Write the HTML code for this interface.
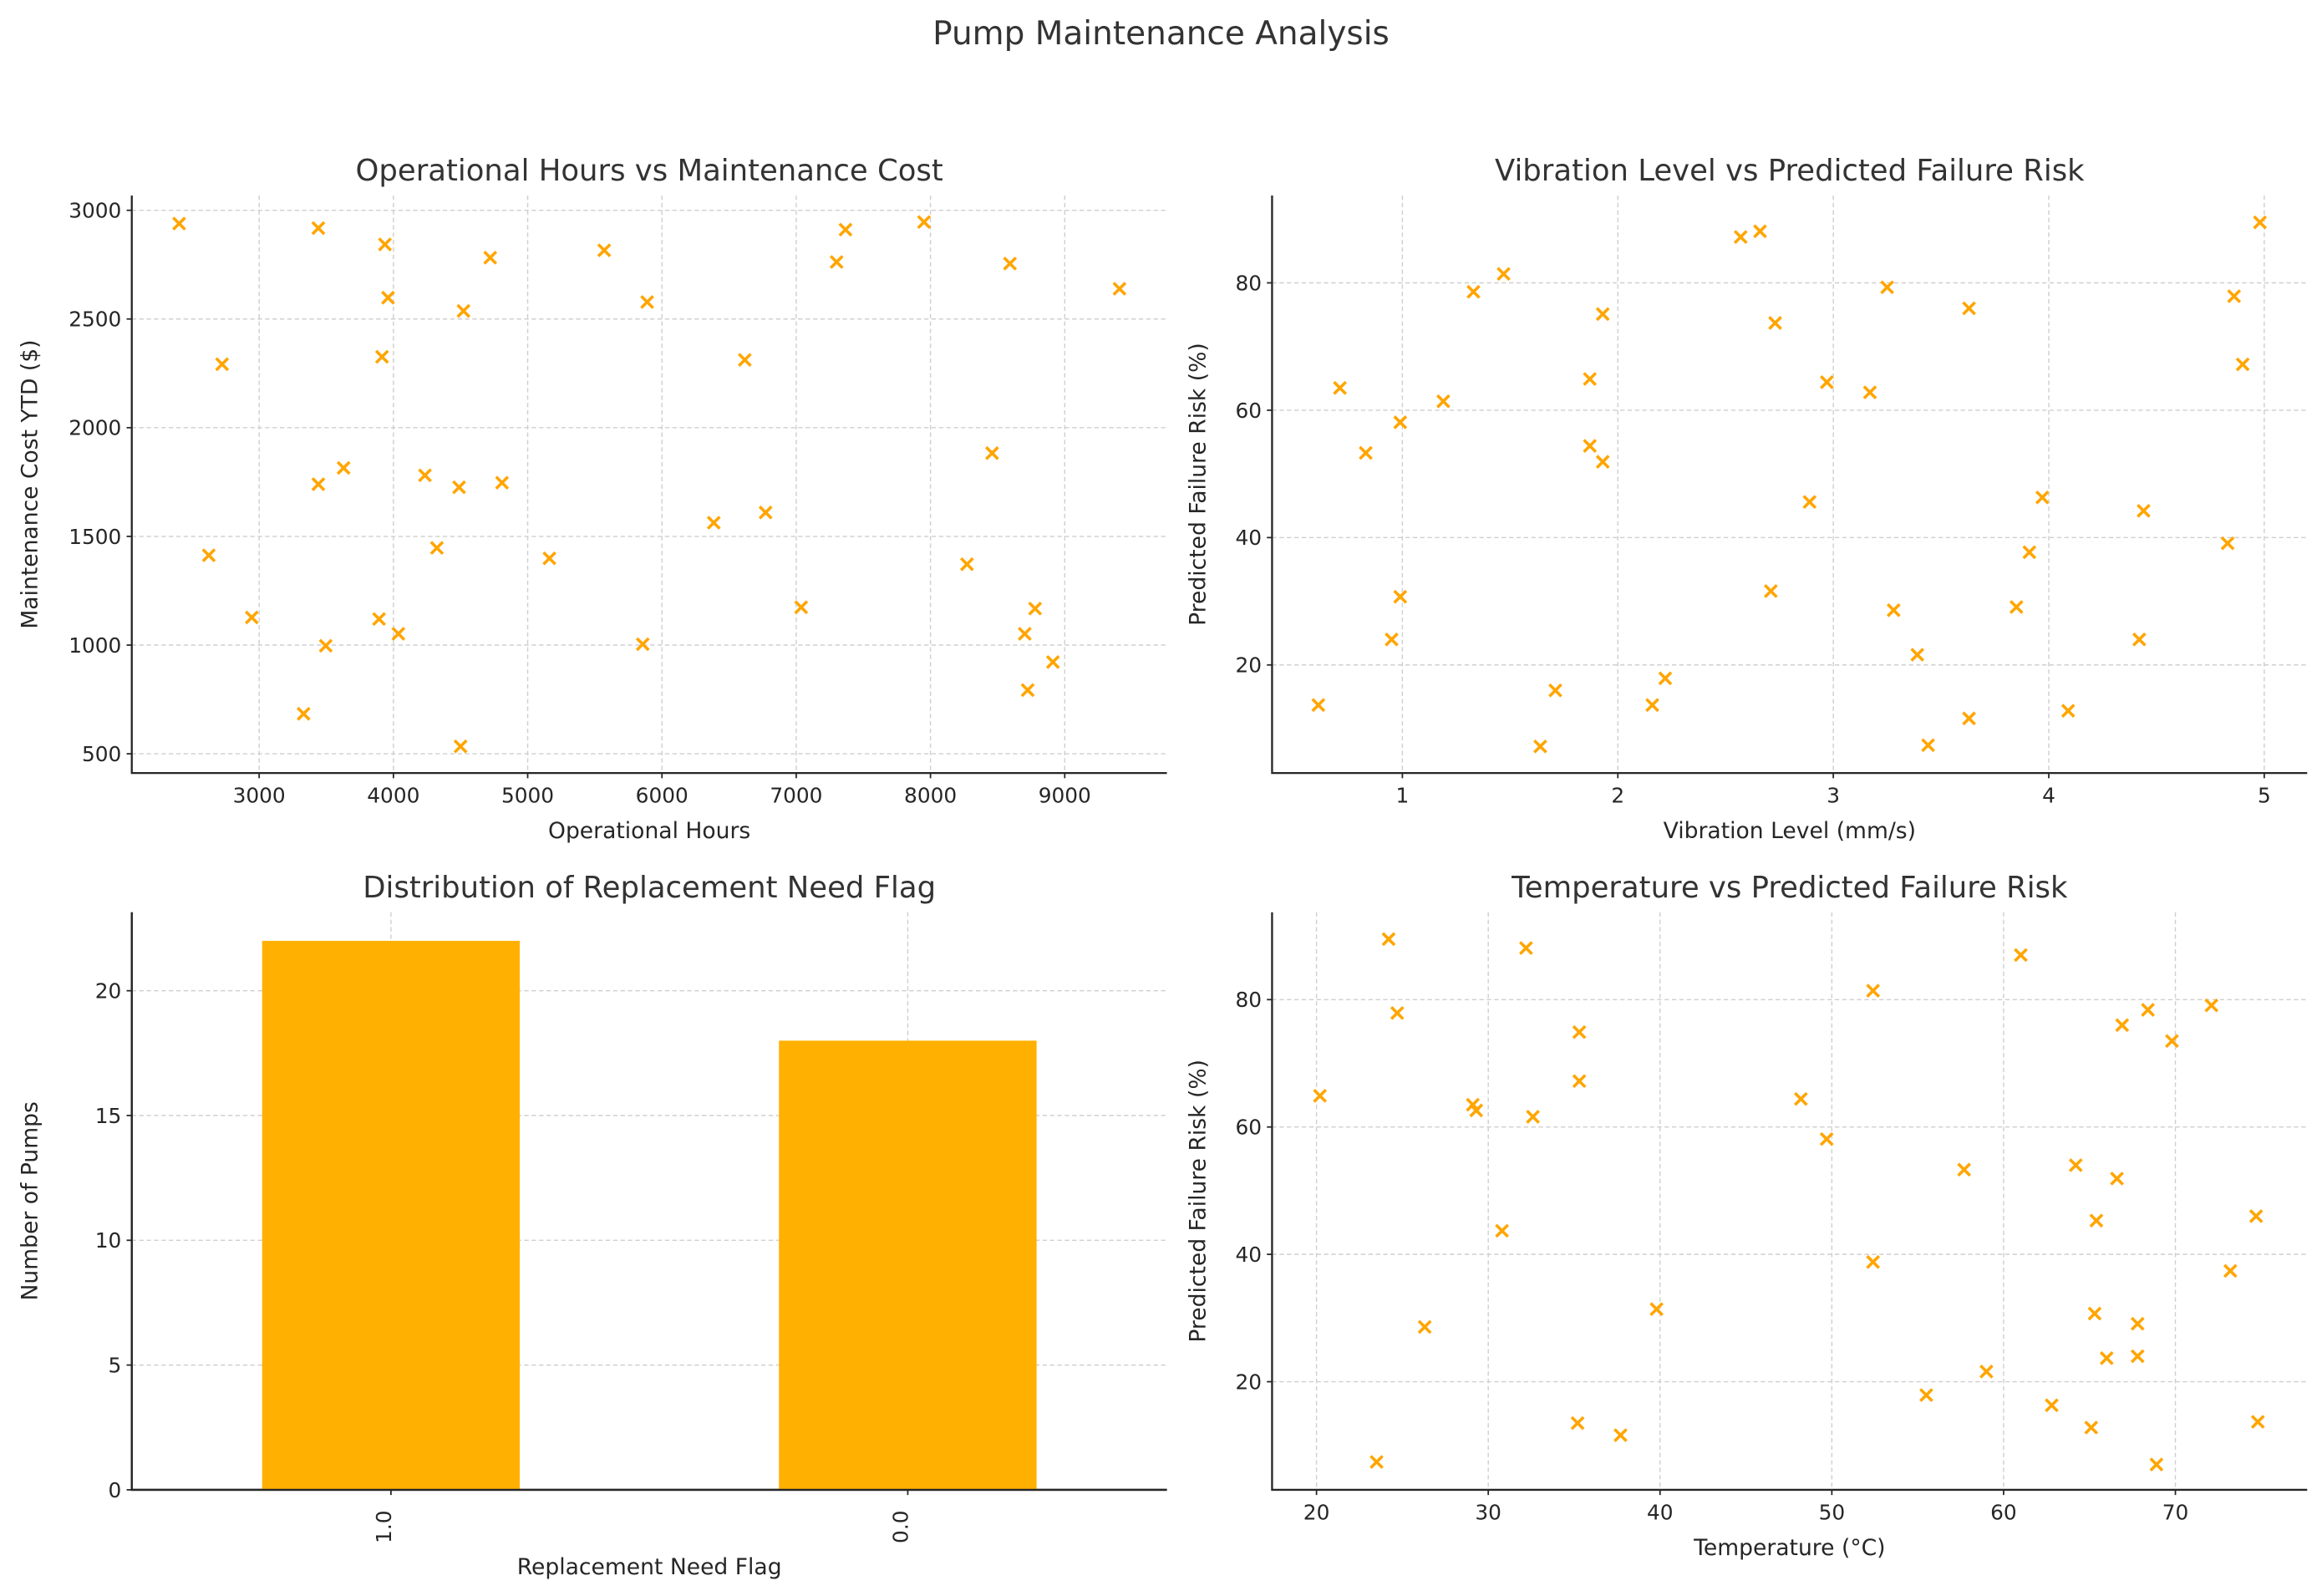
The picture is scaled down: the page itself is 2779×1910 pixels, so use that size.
<!DOCTYPE html>
<html><head><meta charset="utf-8"><title>Pump Maintenance Analysis</title>
<style>
html,body{margin:0;padding:0;background:#fff;}
svg{display:block;font-family:"DejaVu Sans","Liberation Sans",sans-serif;}
</style></head>
<body>
<svg id="fig" xmlns="http://www.w3.org/2000/svg" width="2779" height="1910" viewBox="0 0 1568 1077.7" preserveAspectRatio="none">
<rect x="0" y="0" width="1568" height="1077.7" fill="#fff"/>
<text x="784" y="30" text-anchor="middle" font-size="22" fill="#333">Pump Maintenance Analysis</text>
</svg>
<script>
// Chart 1 data
const hoursData = [2404,3441,3937,4721,5570,7367,7301,7952,8592,9408,3960,4522,5890,2724,3915,6617,8459,3629,3441,4235,4489,4809,6386,6772,2625,4324,5162,8272,2945,3893,4037,7037,8779,3496,5857,8702,8912,8724,3331,4500];
const costData = [2939,2918,2843,2782,2816,2911,2762,2946,2755,2639,2598,2537,2578,2292,2326,2312,1883,1815,1740,1781,1726,1747,1563,1610,1413,1447,1399,1372,1127,1120,1052,1174,1168,997,1004,1052,922,793,684,534];
const hoursTicks = [3000,4000,5000,6000,7000,8000,9000];
const costTicks = [500,1000,1500,2000,2500,3000];
// Chart 2 data
const vibData = [0.61,0.71,0.83,0.99,0.99,0.95,1.19,1.33,1.47,1.93,1.87,1.87,1.93,1.71,1.64,2.16,2.22,2.57,2.66,2.73,2.89,2.71,2.97,3.17,3.25,3.28,3.39,3.44,3.63,3.63,3.85,3.91,3.97,4.09,4.44,4.42,4.83,4.86,4.90,4.98];
const vibRisk = [13.7,63.5,53.3,58.1,30.7,24.0,61.4,78.6,81.4,75.1,64.9,54.4,51.9,16.0,7.2,13.7,17.9,87.2,88.1,73.7,45.6,31.6,64.4,62.8,79.3,28.6,21.6,7.4,76.0,11.6,29.1,37.7,46.3,12.8,44.2,24.0,39.1,77.9,67.2,89.5];
const vibTicks = [1,2,3,4,5];
const riskTicks = [20,40,60,80];
// Chart 3 data
const flagCategories = ["1.0","0.0"];
const flagCounts = [22,18];
const countTicks = [0,5,10,15,20];
// Chart 4 data
const tempData = [20.2,23.5,24.2,24.7,26.3,29.1,29.3,32.2,32.6,30.8,35.3,35.3,35.2,37.7,39.8,48.2,49.7,52.4,52.4,55.5,57.7,59.0,61.0,62.8,64.2,65.1,65.4,65.3,66.0,66.6,66.9,68.4,67.8,67.8,68.9,69.8,72.1,73.2,74.7,74.8];
const tempRisk = [64.9,7.4,89.5,77.9,28.6,63.5,62.6,88.1,61.6,43.7,74.9,67.2,13.5,11.6,31.4,64.4,58.1,81.4,38.8,17.9,53.3,21.6,87.0,16.3,54.0,12.8,45.3,30.7,23.7,51.9,76.0,78.4,29.1,24.0,7.0,73.5,79.1,37.4,46.0,13.7];
const tempTicks = [20,30,40,50,60,70];

const NS = "http://www.w3.org/2000/svg";
const fig = document.getElementById('fig');
function mk(tag, attrs, parent){const e=document.createElementNS(NS,tag);for(const k in attrs)e.setAttribute(k,attrs[k]);(parent||fig).appendChild(e);return e;}
function lin(d0,d1,r0,r1){return v=>r0+(v-d0)/(d1-d0)*(r1-r0);}

function axes(name, box, xs, ys, xTicks, yTicks, title, xLabel, yLabel, xTickLabels){
  const g = mk('g',{});
  
  
  // grid
  xTicks.forEach(t=>{const l=mk('line',{x1:xs(t),x2:xs(t),y1:box.t,y2:box.b,stroke:'#cfcfcf','stroke-width':0.8,'stroke-dasharray':'3,2'},g);
    
    });
  yTicks.forEach(t=>{const l=mk('line',{x1:box.l,x2:box.r,y1:ys(t),y2:ys(t),stroke:'#cfcfcf','stroke-width':0.8,'stroke-dasharray':'3,2'},g);
    
    });
  // spines
  const sp=mk('path',{d:`M${box.l},${box.t}V${box.b}H${box.r}`,fill:'none',stroke:'#262626','stroke-width':1.3},g);
  
  
  // ticks
  xTicks.forEach((t,i)=>{mk('line',{x1:xs(t),x2:xs(t),y1:box.b,y2:box.b+3.5,stroke:'#262626','stroke-width':1},g);
    if(!xTickLabels){const tx=mk('text',{x:xs(t),y:box.b+20,'text-anchor':'middle','font-size':14,fill:'#262626'},g);tx.textContent=t;
    
    }});
  yTicks.forEach(t=>{mk('line',{x1:box.l-3.5,x2:box.l,y1:ys(t),y2:ys(t),stroke:'#262626','stroke-width':1},g);
    const tx=mk('text',{x:box.l-7,y:ys(t)+5,'text-anchor':'end','font-size':14,fill:'#262626'},g);tx.textContent=t;
    
    });
  const cx=(box.l+box.r)/2;
  const ti=mk('text',{x:cx,y:box.t-10,'text-anchor':'middle','font-size':20,fill:'#333'},g);ti.textContent=title;
  
  
  const xl=mk('text',{x:cx,y:xTickLabels?box.b+57:box.b+44,'text-anchor':'middle','font-size':15,fill:'#262626'},g);xl.textContent=xLabel;
  
  
  const ym=(box.t+box.b)/2, yx=box.l-(box.l>500?45:64);
  const yl=mk('text',{x:yx,y:ym,'text-anchor':'middle','font-size':15,fill:'#262626',transform:`rotate(-90 ${yx} ${ym})`},g);yl.textContent=yLabel;
  
  
  return g;
}
function scatter(g, xs, ys, X, Y){
  X.forEach((v,i)=>{const px=xs(v),py=ys(Y[i]),s=4;
    const p=mk('path',{d:`M${px-s},${py-s}L${px+s},${py+s}M${px-s},${py+s}L${px+s},${py-s}`,stroke:'#FFA500','stroke-width':2,fill:'none'},g);
    
    });
}

// Chart 1
{const box={l:89,r:788,t:132,b:522};
 const xs=lin(3000,9000,175,719), ys=lin(500,3000,509,142);
 const g=axes('hours-vs-cost-chart',box,xs,ys,hoursTicks,costTicks,'Operational Hours vs Maintenance Cost','Operational Hours','Maintenance Cost YTD ($)');
 scatter(g,xs,ys,hoursData,costData);}
// Chart 2
{const box={l:859,r:1558,t:132,b:522};
 const xs=lin(1,5,947,1529), ys=lin(20,80,449,191);
 const g=axes('vibration-vs-risk-chart',box,xs,ys,vibTicks,riskTicks,'Vibration Level vs Predicted Failure Risk','Vibration Level (mm/s)','Predicted Failure Risk (%)');
 scatter(g,xs,ys,vibData,vibRisk);}
// Chart 3
{const box={l:89,r:788,t:616,b:1006};
 const xs=lin(0,1,264,613), ys=lin(0,20,1006,669);
 const idx=flagCategories.map((c,i)=>i);
 const g=axes('replacement-flag-bar-chart',box,xs,ys,idx,countTicks,'Distribution of Replacement Need Flag','Replacement Need Flag','Number of Pumps',true);
 const bw=174;
 flagCounts.forEach((v,i)=>{const r=mk('rect',{x:xs(i)-bw/2,y:ys(v),width:bw,height:ys(0)-ys(v),fill:'#FFB000'},g);
   
   
   const tx=mk('text',{x:xs(i)+5,y:box.b+30,'text-anchor':'middle','font-size':14,fill:'#262626',transform:`rotate(-90 ${xs(i)} ${box.b+30})`},g);
   tx.textContent=flagCategories[i];
   
   });
 // redraw spines on top of bars
 mk('path',{d:`M${box.l},${box.t}V${box.b}H${box.r}`,fill:'none',stroke:'#262626','stroke-width':1.3},g);}
// Chart 4
{const box={l:859,r:1558,t:616,b:1006};
 const xs=lin(20,70,889,1469), ys=lin(20,80,933,675);
 const g=axes('temperature-vs-risk-chart',box,xs,ys,tempTicks,riskTicks,'Temperature vs Predicted Failure Risk','Temperature (°C)','Predicted Failure Risk (%)');
 scatter(g,xs,ys,tempData,tempRisk);}
</script>
</body></html>
